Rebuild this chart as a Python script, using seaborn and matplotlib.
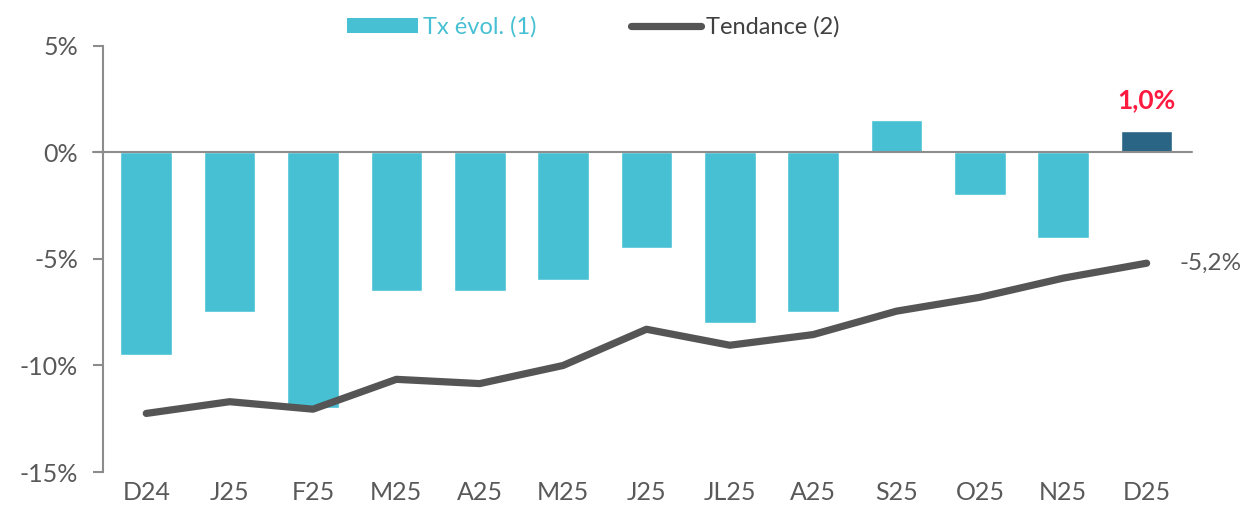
import pandas as pd
import matplotlib.pyplot as plt
import seaborn as sns
from matplotlib.patches import Patch
from matplotlib.lines import Line2D

# Data
months = ['D24', 'J25', 'F25', 'M25', 'A25', 'M25', 'J25', 'JL25', 'A25', 'S25', 'O25', 'N25', 'D25']
tx_evol = [-9.5, -7.5, -12.0, -6.5, -6.5, -6.0, -4.5, -8.0, -7.5, 1.5, -2.0, -4.0, 1.0]
tendance = [-12.25, -11.7, -12.05, -10.65, -10.85, -10.0, -8.3, -9.05, -8.55, -7.45, -6.8, -5.9, -5.2]

teal = '#48C0D3'
dark_blue = '#2A6585'
line_grey = '#555555'
axis_grey = '#8C8C8C'
text_grey = '#595959'

df = pd.DataFrame({'idx': range(len(months)), 'month': months,
                   'tx': tx_evol, 'trend': tendance})
bar_colors = [teal] * (len(months) - 1) + [dark_blue]

sns.set_style('white')
plt.rcParams['font.family'] = ['Lato', 'DejaVu Sans']

fig = plt.figure(figsize=(12.4, 5.21), dpi=100)
ax = fig.add_axes([0.083, 0.094, 0.878, 0.818])

sns.barplot(data=df, x='idx', y='tx', hue='idx', palette=bar_colors,
            width=0.62, legend=False, ax=ax, saturation=1)
sns.lineplot(data=df, x='idx', y='trend', color=line_grey, linewidth=5.2,
             ax=ax, solid_capstyle='round', solid_joinstyle='round')

ax.set_xlim(-0.52, len(months) - 0.46)
ax.set_ylim(-15, 5)
ax.set_yticks([-15, -10, -5, 0, 5])
ax.set_yticklabels([f'{v}%' for v in [-15, -10, -5, 0, 5]])
ax.set_xticks(range(len(months)))
ax.set_xticklabels(months)
ax.set_xlabel('')
ax.set_ylabel('')

for s in ['top', 'right', 'bottom']:
    ax.spines[s].set_visible(False)
ax.spines['left'].set_color(axis_grey)
ax.spines['left'].set_linewidth(1.5)
ax.axhline(0, xmin=-0.0095, xmax=1, color=axis_grey, linewidth=1.5,
           clip_on=False, zorder=3)

ax.tick_params(axis='y', which='both', left=True, length=7, width=1.5,
               color=axis_grey, pad=11, labelsize=18, labelcolor=text_grey,
               direction='out')
ax.tick_params(axis='x', bottom=False, pad=3, labelsize=18, labelcolor=text_grey)

# annotations
ax.text(12, 1.9, '1,0%', color='#FF1A40', fontsize=19, fontweight='bold',
        ha='center', va='bottom')
ax.text(12.4, -5.2, '-5,2%', color=text_grey, fontsize=17.5, ha='left',
        va='center')

handles = [Patch(facecolor=teal, edgecolor='none'),
           Line2D([0], [0], color=line_grey, linewidth=5.2, solid_capstyle='round')]
leg = fig.legend(handles, ['Tx évol. (1)', 'Tendance (2)'], loc='center',
                 bbox_to_anchor=(0.4785, 0.948), ncol=2, frameon=False,
                 fontsize=17, handlelength=3.0, handletextpad=0.2,
                 columnspacing=4.0, handleheight=0.6)
leg.get_texts()[0].set_color(teal)
leg.get_texts()[1].set_color('#404040')

fig.savefig('out.png', dpi=100)
